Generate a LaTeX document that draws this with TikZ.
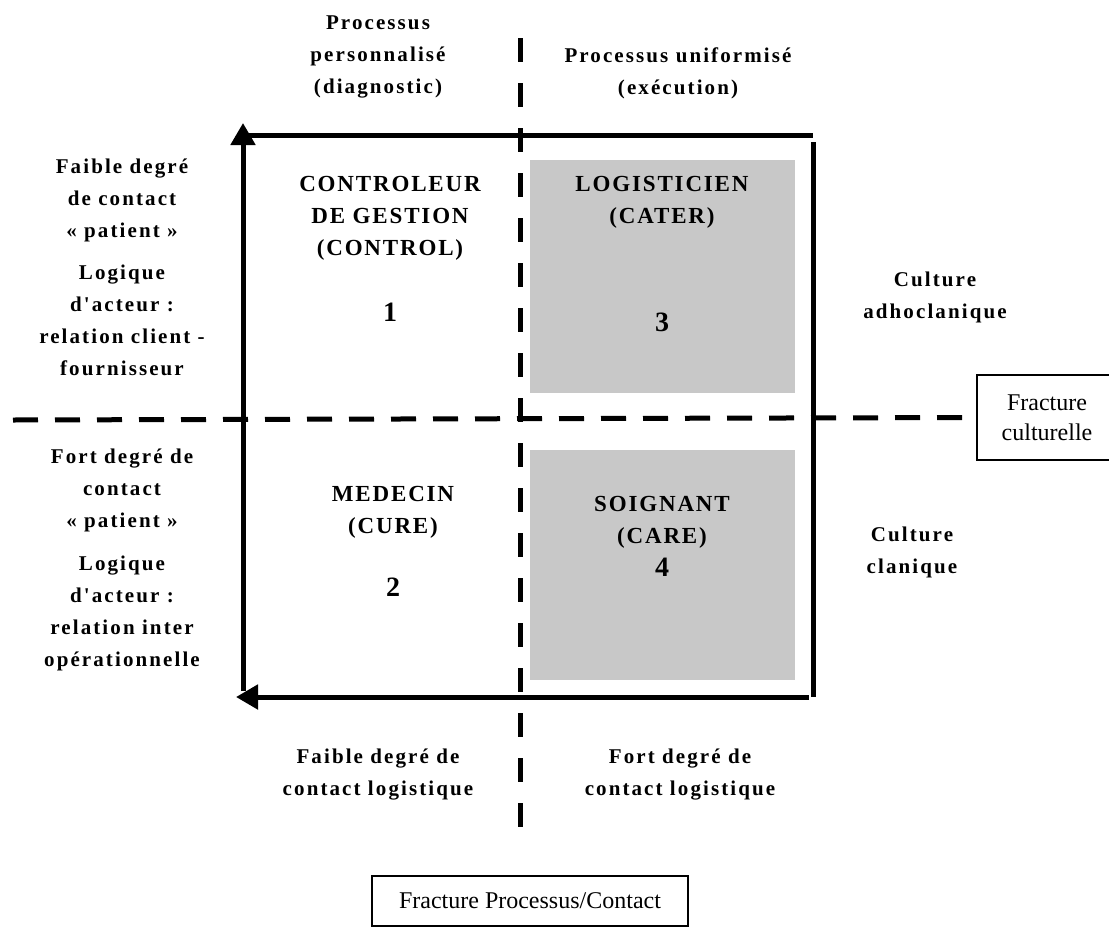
\documentclass[tikz,border=0pt]{standalone}
\usepackage{fontspec}
\setmainfont{Liberation Serif}
\newfontfamily\lblfont[LetterSpace=10]{Liberation Serif}
\newfontfamily\capfont[LetterSpace=8]{Liberation Serif}
\usetikzlibrary{arrows.meta}
\definecolor{boxgray}{RGB}{200,200,200}
\begin{document}
\begin{tikzpicture}[x=0.5pt,y=-0.5pt,
  lab/.style={font=\lblfont\bfseries\fontsize{10.5}{16}\selectfont, align=center, inner sep=0pt},
  caplab/.style={font=\capfont\bfseries\fontsize{11.5}{16}\selectfont, align=center, inner sep=0pt},
  num/.style={font=\lblfont\bfseries\fontsize{14}{16}\selectfont, inner sep=0pt},
  axis/.style={line width=2.5pt},
  vdash/.style={line width=2.5pt, dash pattern=on 12pt off 10.5pt},
  hdash/.style={line width=2.5pt, dash pattern=on 12.5pt off 8.5pt},
  fracbox/.style={draw, line width=0.7pt, font=\fontsize{12}{15}\selectfont, align=center},
  quad/.style={fill=boxgray, draw=none}
]
\useasboundingbox (0,0) rectangle (1109,932);

% gray quadrants
\fill[quad] (530,160) rectangle (795,393);
\fill[quad] (530,450) rectangle (795,680);

% frame corners
\coordinate (tl) at (243,123);
\coordinate (tr) at (813,135);
\coordinate (trv) at (813,142);
\coordinate (br) at (813,697);
\coordinate (bl) at (243,697);
\coordinate (bla) at (236,697);
\coordinate (tlh) at (243,135);

\draw[axis, -{Triangle[width=12pt,length=11pt]}] ([yshift=3]bl) -- (tl);
\draw[axis] (tlh) -- (tr);
\draw[axis] (trv) -- (br);
\draw[axis, -{Triangle[width=12pt,length=11pt]}] ([xshift=-2]br |- bl) -- (bla);

% fracture boxes
\node[fracbox, minimum width=158pt, minimum height=25pt] (fpc) at (530,901) {Fracture Processus/Contact};
\node[fracbox, minimum width=70pt, minimum height=42.5pt, inner sep=2pt] (fc) at (1047,417.5) {Fracture\\culturelle};

% dashed lines
\coordinate (vtop) at (520,38);
\coordinate (vbot) at (520,830);
\draw[vdash] (vtop) -- (vbot);
\coordinate (hleft) at (13,420);
\draw[hdash] (hleft) -- (fc.west);

% top labels
\node[lab] (pp) at (378,57) {Processus\\personnalisé\\(diagnostic)};
\node[lab] (pu) at (678,73) {Processus uniformisé\\(exécution)};

% left labels
\node[lab] (fdc) at (122,200) {Faible degré\\de contact\\« patient »};
\node[lab] (la1) at (122,320) {Logique\\d'acteur :\\relation client -\\fournisseur};
\node[lab] (fdc2) at (122,490) {Fort degré de\\contact\\« patient »};
\node[lab] (la2) at (122,613) {Logique\\d'acteur :\\relation inter\\opérationnelle};

% quadrant labels
\node[caplab] (q1) at (390,218) {CONTROLEUR\\DE GESTION\\(CONTROL)};
\node[num] (n1) at (390,312) {1};
\node[caplab] (q3) at (662,202) {LOGISTICIEN\\(CATER)};
\node[num] (n3) at (662,322) {3};
\node[caplab] (q2) at (393,512) {MEDECIN\\(CURE)};
\node[num] (n2) at (393,587) {2};
\node[caplab] (q4) at (662,522) {SOIGNANT\\(CARE)};
\node[num] (n4) at (662,567) {4};

% right labels
\node[lab] (cu1) at (935,297) {Culture\\adhoclanique};
\node[lab] (cu2) at (912,552) {Culture\\clanique};

% bottom labels
\node[lab] (b1) at (378,775) {Faible degré de\\contact logistique};
\node[lab] (b2) at (680,775) {Fort degré de\\contact logistique};
\end{tikzpicture}
\end{document}
